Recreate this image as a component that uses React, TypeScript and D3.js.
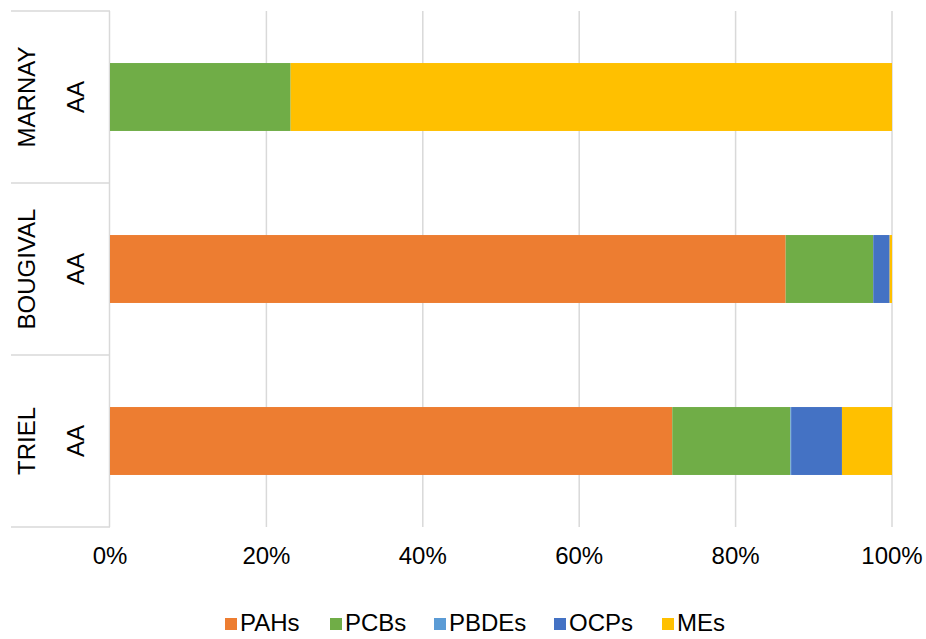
import React, { useEffect, useRef } from "react";
import * as d3 from "d3";

// 100% stacked horizontal bar chart

const sites = ["MARNAY", "BOUGIVAL", "TRIEL"];
const subLabels = ["AA", "AA", "AA"];
const seriesNames = ["PAHs", "PCBs", "PBDEs", "OCPs", "MEs"];
const seriesColors = ["#ED7D31", "#70AD47", "#5B9BD5", "#4472C4", "#FFC000"];

// shares per site, in the order of seriesNames
const pahs = [0, 86.4, 71.9];
const pcbs = [23.1, 11.2, 15.1];
const pbdes = [0, 0, 0.1];
const ocps = [0, 2.1, 6.5];
const mes = [76.9, 0.3, 6.4];

const ticks = [0, 0.2, 0.4, 0.6, 0.8, 1];

export default function App() {
  const ref = useRef<SVGSVGElement>(null);

  useEffect(() => {
    const W = 926, H = 639;
    const svg = d3.select(ref.current);
    svg.selectAll("*").remove();

    const left = 110, right = 892, top = 11, bottom = 527;
    const font = "'Liberation Sans', Arial, sans-serif";
    const grid = "#D9D9D9";

    const rows = sites.map((s, i) => ({
      site: s,
      PAHs: pahs[i], PCBs: pcbs[i], PBDEs: pbdes[i], OCPs: ocps[i], MEs: mes[i],
    }));
    const stacked = d3.stack<any>().keys(seriesNames).offset(d3.stackOffsetExpand)(rows);

    const x = d3.scaleLinear().domain([0, 1]).range([left, right]);
    const y = d3.scaleBand().domain(sites).range([top, bottom]).paddingInner(0).paddingOuter(0);
    const barH = y.bandwidth() * 0.395;

    // gridlines
    svg.append("g").selectAll("line").data(ticks.slice(1)).join("line")
      .attr("x1", d => x(d)).attr("x2", d => x(d))
      .attr("y1", top).attr("y2", bottom)
      .attr("stroke", grid).attr("stroke-width", 1.5);

    // category box lines
    const bounds = [top, ...sites.map(s => (y(s) as number) + y.bandwidth())];
    svg.append("g").selectAll("line").data(bounds).join("line")
      .attr("x1", 11).attr("x2", left)
      .attr("y1", d => d).attr("y2", d => d)
      .attr("stroke", grid).attr("stroke-width", 1.5);
    svg.append("line")
      .attr("x1", left - 0.5).attr("x2", left - 0.5)
      .attr("y1", top).attr("y2", bottom)
      .attr("stroke", grid).attr("stroke-width", 1.5);

    // bars
    svg.append("g").selectAll("g").data(stacked).join("g")
      .attr("fill", (d, i) => seriesColors[i])
      .selectAll("rect").data(d => d).join("rect")
      .attr("x", d => x(d[0]))
      .attr("width", d => Math.max(0, x(d[1]) - x(d[0])))
      .attr("y", d => (y(d.data.site) as number) + (y.bandwidth() - barH) / 2)
      .attr("height", barH);

    // category labels
    sites.forEach((s, i) => {
      const cy = (y(s) as number) + y.bandwidth() / 2;
      svg.append("text")
        .attr("transform", `translate(35,${cy}) rotate(-90)`)
        .attr("text-anchor", "middle")
        .style("font-family", font).style("font-size", "24px").attr("fill", "#000")
        .text(s);
      svg.append("text")
        .attr("transform", `translate(84,${cy}) rotate(-90)`)
        .attr("text-anchor", "middle")
        .style("font-family", font).style("font-size", "24px").attr("fill", "#000")
        .text(subLabels[i]);
    });

    // x tick labels
    svg.append("g").selectAll("text").data(ticks).join("text")
      .attr("x", d => x(d)).attr("y", 564)
      .attr("text-anchor", "middle")
      .style("font-family", font).style("font-size", "24px").attr("fill", "#000")
      .text(d => d3.format(".0%")(d));

    // legend
    const legendX = [225, 330, 434, 554, 662];
    const lg = svg.append("g").selectAll("g").data(seriesNames).join("g")
      .attr("transform", (d, i) => `translate(${legendX[i]},618)`);
    lg.append("rect").attr("width", 12).attr("height", 12)
      .attr("fill", (d, i) => seriesColors[i]);
    lg.append("text").attr("x", 15).attr("y", 13)
      .style("font-family", font).style("font-size", "24px").attr("fill", "#000")
      .text(d => d);

    svg.attr("width", W).attr("height", H);
  }, []);

  return (
    <svg ref={ref} width={926} height={639}
      style={{ position: "absolute", left: 0, top: 0, background: "#fff" }} />
  );
}
